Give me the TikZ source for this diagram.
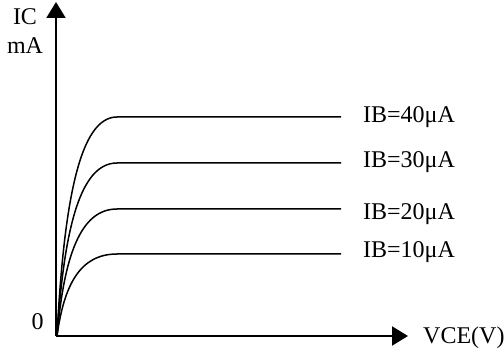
\documentclass[tikz,border=0pt]{standalone}
\usepackage{fontspec}
\setmainfont{Liberation Serif}
\usetikzlibrary{arrows.meta}
\begin{document}
\begin{tikzpicture}[x=1pt,y=-1pt,
  axis/.style={line width=2pt,-{Triangle[length=16pt,width=19pt]}},
  curve/.style={line width=1.5pt},
  lbl/.style={inner sep=0pt,font=\fontsize{24}{24}\selectfont}]
\useasboundingbox (0,0) rectangle (504,350);
\coordinate (O) at (56,336);
\coordinate (Ytop) at (56,2);
\coordinate (Xend) at (408,336);
\draw[axis] (O) -- (Ytop);
\draw[axis] (O) -- (Xend);
\node[lbl,anchor=base] (ic) at (25,25) {IC};
\node[lbl,anchor=base] (ma) at (25,54) {mA};
\node[lbl,anchor=base] (zero) at (37.5,329) {0};
\node[lbl,anchor=base west] (vce) at (423,343) {VCE(V)};
% curves
\foreach \p/\c/\n/\b in {117/200/40/123, 163/229/30/168, 209/257/20/220, 254/285/10/258}{
  \coordinate (k\n) at (117,\p);
  \coordinate (e\n) at (341,\p);
  \draw[curve] (57,336) .. controls (64,\c) and (80,\p) .. (k\n) -- (e\n);
  \node[lbl,anchor=base west] (ib\n) at (363,\b) {IB=\n μA};
}
\end{tikzpicture}
\end{document}
